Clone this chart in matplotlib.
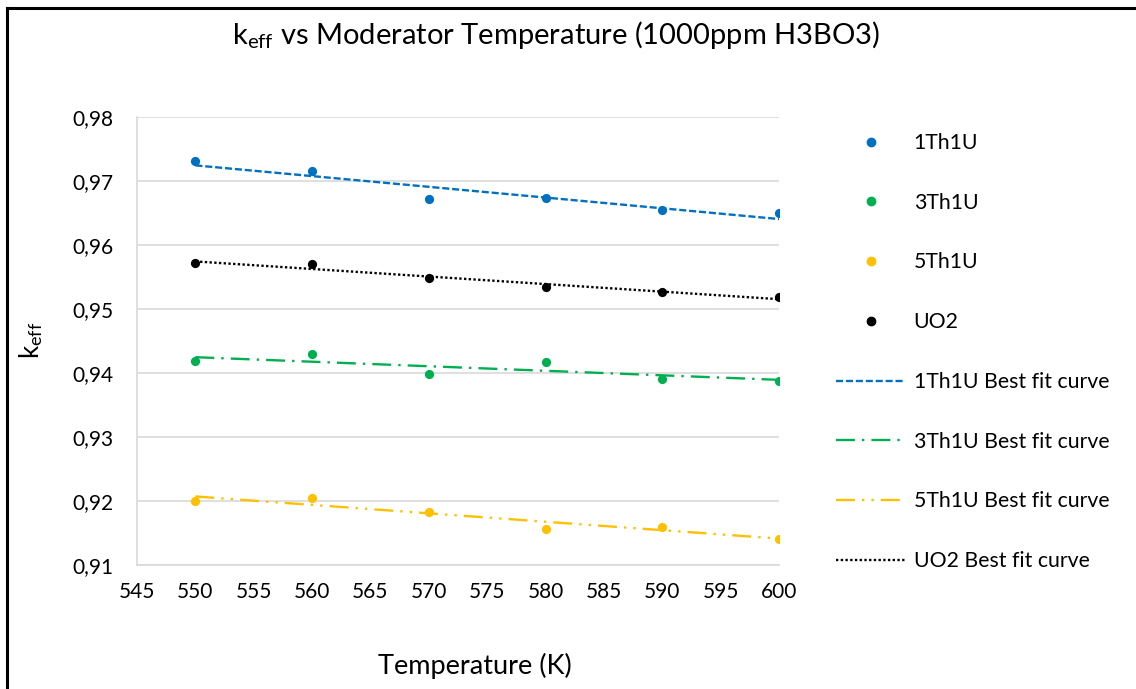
"""k_eff vs moderator temperature, scatter points with linear best-fit lines."""

import numpy as np
import matplotlib

matplotlib.use("Agg")
import matplotlib.pyplot as plt
from matplotlib.lines import Line2D
from matplotlib.ticker import FuncFormatter, MultipleLocator

plt.rcParams["font.family"] = ["Lato", "DejaVu Sans"]
plt.rcParams["mathtext.fontset"] = "custom"
plt.rcParams["mathtext.rm"] = "Lato"
plt.rcParams["mathtext.it"] = "Lato:italic"

temperature = [550, 560, 570, 580, 590, 600]
k_1th1u = [0.9731, 0.9715, 0.9672, 0.9673, 0.9654, 0.9650]
k_3th1u = [0.9418, 0.9430, 0.9398, 0.9417, 0.9391, 0.9388]
k_5th1u = [0.9200, 0.9205, 0.9183, 0.9157, 0.9160, 0.9140]
k_uo2 = [0.9572, 0.9570, 0.9548, 0.9534, 0.9527, 0.9518]

series = [
    ("1Th1U", k_1th1u, "#0070C0", (0, (3, 1.2))),
    ("3Th1U", k_3th1u, "#00B050", (0, (8, 3, 1, 3))),
    ("5Th1U", k_5th1u, "#FFC000", (0, (8, 3, 1, 3, 1, 3))),
    ("UO2", k_uo2, "black", (0, (1, 1))),
]

W, H = 1136, 689
fig = plt.figure(figsize=(W / 100, H / 100), dpi=100)
ax = fig.add_axes([137 / W, 1 - 565 / H, (779 - 137) / W, (565 - 117) / H])

x = np.array(temperature)
marker_handles, line_handles = [], []
for name, ys, color, ls in series:
    ax.scatter(x, ys, s=44, color=color, zorder=4, linewidths=0)
    slope, icpt = np.polyfit(x, ys, 1)
    ax.plot(x, slope * x + icpt, color=color, lw=1.7, ls=ls, zorder=3)
    marker_handles.append(Line2D([], [], ls="none", marker="o", ms=6,
                                 color=color, label=name))
    line_handles.append(Line2D([], [], ls=ls, lw=1.7, color=color,
                               label=f"{name} Best fit curve"))

ax.set_xlim(545, 600)
ax.set_ylim(0.91, 0.98)
ax.xaxis.set_major_locator(MultipleLocator(5))
ax.yaxis.set_major_locator(MultipleLocator(0.01))
ax.yaxis.set_major_formatter(FuncFormatter(lambda v, _: f"{v:.2f}".replace(".", ",")))
ax.grid(axis="y", color="#d9d9d9", lw=1.2)
ax.set_axisbelow(True)
for side in ("top", "right"):
    ax.spines[side].set_visible(False)
for side in ("left", "bottom"):
    ax.spines[side].set_color("#d9d9d9")
    ax.spines[side].set_linewidth(1.2)
ax.tick_params(length=0, labelsize=15, colors="black")
ax.tick_params(axis="y", pad=17)
ax.tick_params(axis="x", pad=12)

fig.text(475 / W, 1 - 666 / H, "Temperature (K)", ha="center", va="center", fontsize=19.5)
fig.text(31 / W, 1 - 340 / H, r"k$_{\mathrm{eff}}$", ha="center", va="center",
         rotation=90, fontsize=18.5)
fig.text(556 / W, 1 - 35 / H,
         r"k$_{\mathrm{eff}}$ vs Moderator Temperature (1000ppm H3BO3)",
         ha="center", va="center", fontsize=21)

fig.legend(handles=marker_handles + line_handles, loc="upper left",
           bbox_to_anchor=(836 / W, 1 - 133 / H), frameon=False, fontsize=15.3,
           borderpad=0, borderaxespad=0, labelspacing=1.87, handlelength=3.25,
           handletextpad=0.4)

# chart frame (left and top edges visible in the crop)
fig.add_artist(Line2D([7 / W, 7 / W], [0, 1 - 8 / H], color="black", lw=2.2))
fig.add_artist(Line2D([7 / W, 1], [1 - 8 / H, 1 - 8 / H], color="black", lw=2.2))

fig.savefig("out.png", dpi=100)
